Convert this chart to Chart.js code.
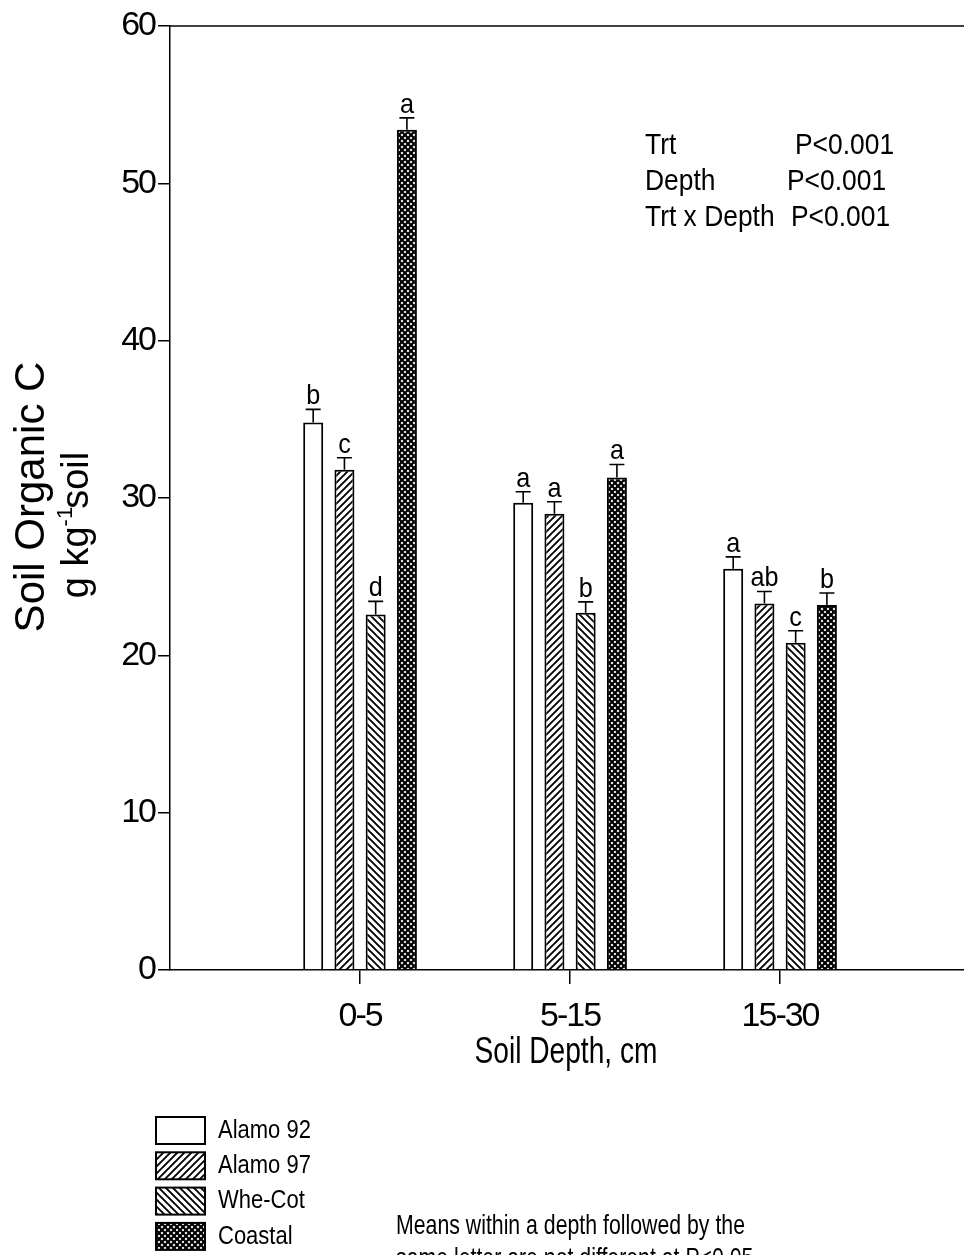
<!DOCTYPE html>
<html>
<head>
<meta charset="utf-8">
<script src="https://cdn.jsdelivr.net/npm/chart.js@4.4.1/dist/chart.umd.min.js"></script>
<style>
  html, body { margin: 0; padding: 0; background: #fff; }
  #wrap { width: 964px; height: 1255px; position: relative; overflow: hidden; }
</style>
</head>
<body>
<div id="wrap"><canvas id="soilChart" width="964" height="1255"></canvas></div>
<script>
// Soil organic C by depth and treatment

const depths = ["0-5", "5-15", "15-30"];
const treatments = ["Alamo 92", "Alamo 97", "Whe-Cot", "Coastal"];

const alamo92 = [34.8, 29.7, 25.5];
const alamo97 = [31.8, 29.0, 23.3];
const wheCot  = [22.6, 22.7, 20.8];
const coastal = [53.4, 31.3, 23.2];

// standard errors (upper bar only)
const alamo92Err = [0.83, 0.7, 0.76];
const alamo97Err = [0.76, 0.76, 0.76];
const wheCotErr  = [0.83, 0.7, 0.76];
const coastalErr = [0.76, 0.83, 0.76];

// mean separation letters
const alamo92Let = ["b", "a", "a"];
const alamo97Let = ["c", "a", "ab"];
const wheCotLet  = ["d", "b", "c"];
const coastalLet = ["a", "a", "b"];

const yTicks = [0, 10, 20, 30, 40, 50, 60];

const statRows = [
    ["Trt", "P<0.001"],
    ["Depth", "P<0.001"],
    ["Trt x Depth", "P<0.001"]
];
const noteLines = [
    "Means within a depth followed by the",
    "same letter are not different at P<0.05"
];

const FONT = "'Liberation Sans', Arial, Helvetica, sans-serif";

function makePattern(kind) {
    const s = kind === "cross" ? 6 : 7;
    const c = document.createElement("canvas");
    c.width = s; c.height = s;
    const g = c.getContext("2d");
    g.fillStyle = "#fff";
    g.fillRect(0, 0, s, s);
    g.strokeStyle = "#000";
    g.lineWidth = kind === "cross" ? 2.2 : 1.9;
    g.lineCap = "square";
    function fwd() {
        g.beginPath();
        g.moveTo(-1, s + 1); g.lineTo(s + 1, -1);
        g.moveTo(-1, 1); g.lineTo(1, -1);
        g.moveTo(s - 1, s + 1); g.lineTo(s + 1, s - 1);
        g.stroke();
    }
    function back() {
        g.beginPath();
        g.moveTo(-1, -1); g.lineTo(s + 1, s + 1);
        g.moveTo(s - 1, -1); g.lineTo(s + 1, 1);
        g.moveTo(-1, s - 1); g.lineTo(1, s + 1);
        g.stroke();
    }
    if (kind === "fwd") fwd();
    if (kind === "back") back();
    if (kind === "cross") { fwd(); back(); }
    return g.createPattern(c, "repeat");
}

const fills = ["#ffffff", makePattern("fwd"), makePattern("back"), makePattern("cross")];
const seriesValues = [alamo92, alamo97, wheCot, coastal];
const seriesErr = [alamo92Err, alamo97Err, wheCotErr, coastalErr];
const seriesLet = [alamo92Let, alamo97Let, wheCotLet, coastalLet];

const datasets = treatments.map((name, k) => ({
    label: name,
    data: seriesValues[k].map((v, i) => ({ x: i + 1, y: v })),
    backgroundColor: fills[k],
    borderColor: "#000",
    borderWidth: 2,
    categoryPercentage: 0.595,
    barPercentage: 0.64
}));

// text squeezed horizontally, to mimic the narrow face of the original
function narrowText(ctx, text, x, y, sx) {
    ctx.save();
    ctx.translate(x, y);
    ctx.scale(sx, 1);
    ctx.fillText(text, 0, 0);
    ctx.restore();
}

const extrasPlugin = {
    id: "extras",
    beforeDraw(chart) {
        chart.ctx.letterSpacing = "-2px";
    },
    afterDatasetsDraw(chart) {
        const ctx = chart.ctx;
        ctx.letterSpacing = "0px";
        const y = chart.scales.y;
        const area = chart.chartArea;
        ctx.save();
        // top frame line
        ctx.strokeStyle = "#000";
        ctx.lineWidth = 1.5;
        ctx.beginPath();
        ctx.moveTo(area.left, area.top);
        ctx.lineTo(area.right, area.top);
        ctx.stroke();

        // error bars and letters
        ctx.lineWidth = 1.6;
        ctx.fillStyle = "#000";
        ctx.font = "28px " + FONT;
        ctx.textAlign = "center";
        ctx.textBaseline = "alphabetic";
        chart.data.datasets.forEach((ds, k) => {
            const meta = chart.getDatasetMeta(k);
            meta.data.forEach((bar, i) => {
                const v = seriesValues[k][i];
                const yTop = y.getPixelForValue(v + seriesErr[k][i]);
                const yBar = y.getPixelForValue(v);
                ctx.beginPath();
                ctx.moveTo(bar.x, yBar);
                ctx.lineTo(bar.x, yTop);
                ctx.moveTo(bar.x - 7.5, yTop);
                ctx.lineTo(bar.x + 7.5, yTop);
                ctx.stroke();
                narrowText(ctx, seriesLet[k][i], bar.x, yTop - 5, 0.9);
            });
        });
        ctx.restore();
    },
    afterDraw(chart) {
        const ctx = chart.ctx;
        ctx.letterSpacing = "0px";
        ctx.save();
        ctx.fillStyle = "#000";

        // y axis title
        ctx.save();
        ctx.translate(44, 497);
        ctx.rotate(-Math.PI / 2);
        ctx.font = "42px " + FONT;
        ctx.textAlign = "center";
        ctx.textBaseline = "alphabetic";
        ctx.fillText("Soil Organic C", 0, 0);
        ctx.restore();

        ctx.save();
        ctx.translate(88, 524);
        ctx.rotate(-Math.PI / 2);
        ctx.textBaseline = "alphabetic";
        ctx.textAlign = "left";
        const big = "38px " + FONT, small = "22px " + FONT;
        ctx.font = big; const w1 = ctx.measureText("g kg").width;
        ctx.font = small; const w2 = ctx.measureText("-1").width;
        ctx.font = big; const w3 = ctx.measureText("soil").width;
        const x0 = -(w1 + w2 + w3) / 2;
        ctx.font = big; ctx.fillText("g kg", x0, 0);
        ctx.font = small; ctx.fillText("-1", x0 + w1, -16);
        ctx.font = big; ctx.fillText("soil", x0 + w1 + w2 - 2, 0);
        ctx.restore();

        // x axis title
        ctx.font = "37px " + FONT;
        ctx.textAlign = "center";
        ctx.textBaseline = "middle";
        narrowText(ctx, "Soil Depth, cm", 566, 1053, 0.76);

        // statistics block
        ctx.font = "30px " + FONT;
        ctx.textAlign = "left";
        ctx.textBaseline = "alphabetic";
        const valX = [795, 787, 791];
        statRows.forEach((r, i) => {
            const by = 154 + i * 36;
            narrowText(ctx, r[0], 645, by, 0.88);
            narrowText(ctx, r[1], valX[i], by, 0.88);
        });

        // legend
        ctx.font = "25px " + FONT;
        ctx.textBaseline = "middle";
        treatments.forEach((name, k) => {
            const top = 1117 + k * 35.3;
            ctx.fillStyle = fills[k];
            ctx.fillRect(156, top, 49, 27);
            ctx.strokeStyle = "#000";
            ctx.lineWidth = 2;
            ctx.strokeRect(156, top, 49, 27);
            ctx.fillStyle = "#000";
            narrowText(ctx, name, 218, top + 14, 0.88);
        });

        // footnote
        ctx.font = "28px " + FONT;
        ctx.textBaseline = "alphabetic";
        noteLines.forEach((t, i) => narrowText(ctx, t, 396, 1234 + i * 33, 0.76));
        ctx.restore();
    }
};

new Chart(document.getElementById("soilChart"), {
    type: "bar",
    data: { datasets },
    options: {
        responsive: false,
        animation: false,
        layout: { padding: { top: 26, right: 0, left: 0, bottom: 0 } },
        plugins: { legend: { display: false }, tooltip: { enabled: false } },
        scales: {
            x: {
                type: "linear",
                offset: false,
                min: 0.095,
                max: 3.876,
                afterBuildTicks: (s) => { s.ticks = depths.map((_, i) => ({ value: i + 1 })); },
                afterFit: (s) => { s.height = 285; },
                grid: { offset: false, drawOnChartArea: false, drawTicks: true, tickLength: 14, color: "#000", lineWidth: 1.5 },
                border: { display: true, color: "#000", width: 1.5 },
                ticks: {
                    color: "#000",
                    font: { family: FONT, size: 34 },
                    padding: 12,
                    maxRotation: 0,
                    callback: (v) => depths[v - 1]
                }
            },
            y: {
                min: 0,
                max: 60,
                afterBuildTicks: (s) => { s.ticks = yTicks.map(v => ({ value: v })); },
                afterFit: (s) => { s.width = 170; },
                grid: { drawOnChartArea: false, drawTicks: true, tickLength: 12, color: "#000", lineWidth: 1.5 },
                border: { display: true, color: "#000", width: 1.5 },
                ticks: {
                    color: "#000",
                    font: { family: FONT, size: 34 },
                    padding: 3
                }
            }
        }
    },
    plugins: [extrasPlugin]
});
</script>
</body>
</html>
